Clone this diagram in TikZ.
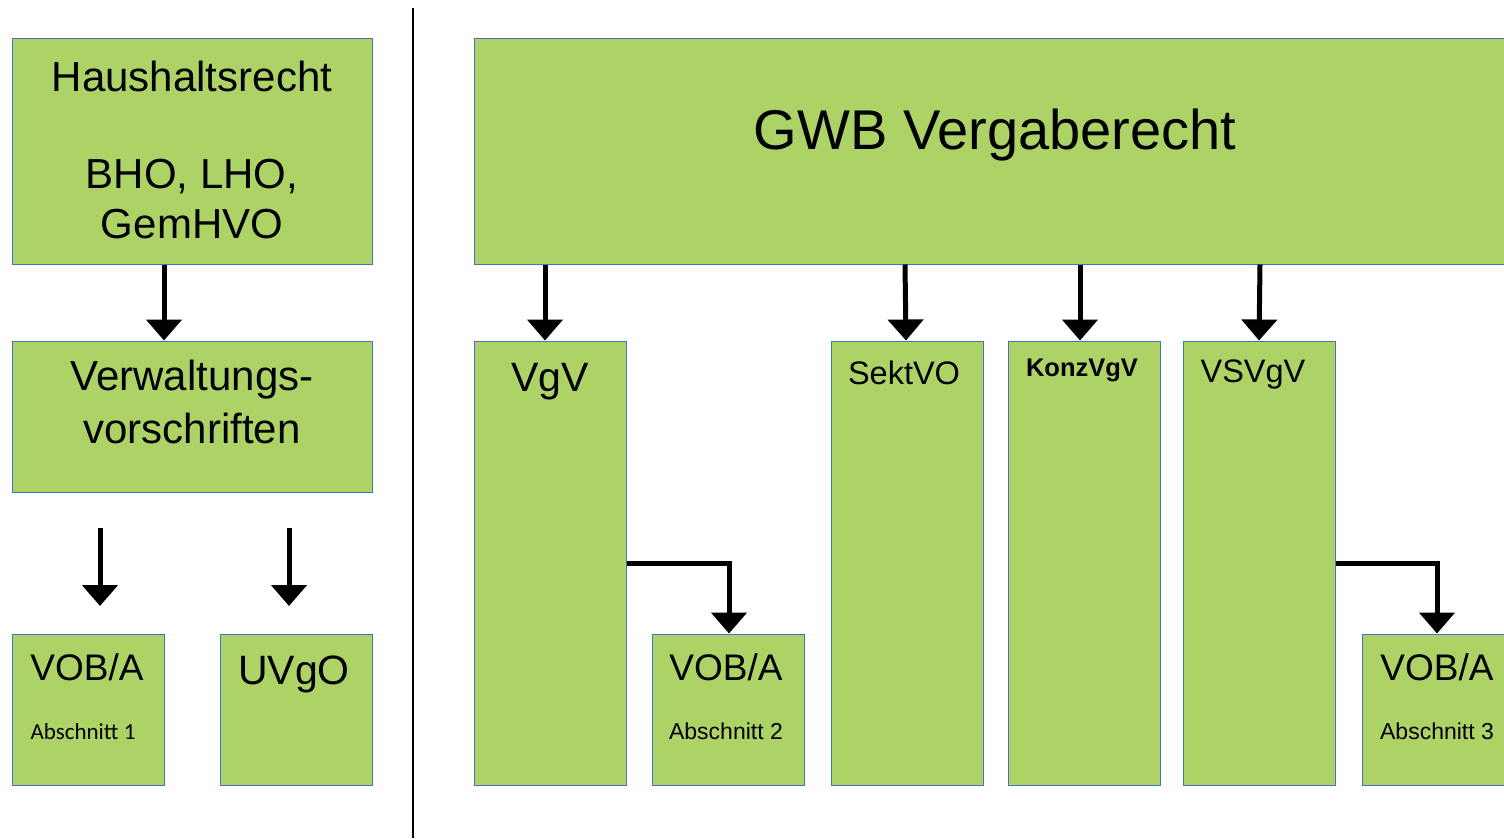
\documentclass[tikz,border=0pt]{standalone}
\usepackage{fontspec}
\setmainfont{Liberation Sans}
\newfontfamily\carl{Carlito}
\usetikzlibrary{arrows.meta}
\definecolor{boxgreen}{RGB}{173,211,103}
\definecolor{boxedge}{RGB}{68,114,196}
\tikzset{
  gbox/.style={draw=boxedge, line width=1pt, fill=boxgreen, inner sep=0pt},
  lbl/.style={inner sep=0pt, text=black, align=center},
  arr/.style={line width=5pt, -{Triangle[width=35pt,length=21pt]}},
  elbow/.style={line width=5pt, -{Triangle[width=35pt,length=21pt]}, line join=miter}
}
\newcommand{\fs}[1]{\fontsize{#1}{#1}\selectfont}
\begin{document}
\begin{tikzpicture}[x=1pt,y=-1pt]
\useasboundingbox (0,0) rectangle (1504,838);
% boxes
\node[gbox, minimum width=360pt, minimum height=226pt] (hh) at (192,151) {};
\node[gbox, minimum width=360pt, minimum height=151pt] (vw) at (192,416.5) {};
\node[gbox, minimum width=152pt, minimum height=151pt] (vob1) at (88,709.5) {};
\node[gbox, minimum width=152pt, minimum height=151pt] (uvgo) at (296,709.5) {};
\node[gbox, minimum width=1034pt, minimum height=226pt] (gwb) at (991,151) {};
\node[gbox, minimum width=152pt, minimum height=444pt] (vgv) at (550,563) {};
\node[gbox, minimum width=152pt, minimum height=151pt] (vob2) at (728,709.5) {};
\node[gbox, minimum width=152pt, minimum height=444pt] (sekt) at (907,563) {};
\node[gbox, minimum width=152pt, minimum height=444pt] (konz) at (1084,563) {};
\node[gbox, minimum width=152pt, minimum height=444pt] (vsv) at (1259,563) {};
\node[gbox, minimum width=152pt, minimum height=151pt] (vob3) at (1438,709.5) {};
% separator
\coordinate (sepT) at (413,8);
\coordinate (sepB) at (413,838);
\draw[line width=1.5pt] (sepT) -- (sepB);
% labels
\node[lbl, font=\fs{42}] (hhA) at (192,76) {Haushaltsrecht};
\node[lbl, font=\fs{42}] (hhB) at (192,177) {BHO, LHO,};
\node[lbl, font=\fs{42}] (hhC) at (192,224) {GemHVO};
\node[lbl, font=\fs{42}] (vwA) at (192,380) {Verwaltungs-};
\node[lbl, font=\fs{42}] (vwB) at (192,428) {vorschriften};
\node[lbl, font=\fs{37}] (v1A) at (87,667) {VOB/A};
\node[lbl, font=\carl\fs{23}] (v1B) at (83,732) {Abschnitt 1};
\node[lbl, font=\fs{41}] (uvA) at (294,674) {UVgO};
\node[lbl, font=\fs{56}] (gwbA) at (995,135) {GWB Vergaberecht};
\node[lbl, font=\fs{41}] (vgvA) at (550,382) {VgV};
\node[lbl, font=\fs{37}] (v2A) at (726,667) {VOB/A};
\node[lbl, font=\fs{23}] (v2B) at (726,731) {Abschnitt 2};
\node[lbl, font=\fs{32.5}] (sektA) at (904,373) {SektVO};
\node[lbl, font=\bfseries\fs{25.5}] (konzA) at (1082,370) {KonzVgV};
\node[lbl, font=\fs{32.5}] (vsvA) at (1253,375) {VSVgV};
\node[lbl, font=\fs{37}] (v3A) at (1437,667) {VOB/A};
\node[lbl, font=\fs{23}] (v3B) at (1437,731) {Abschnitt 3};
% arrows
\draw[arr] ([xshift=-28pt]hh.south) -- ([xshift=-28pt]vw.north);
\coordinate (fa1) at (100,528);
\coordinate (fb1) at (100,606);
\coordinate (fa2) at (289,528);
\coordinate (fb2) at (289,606);
\draw[arr] (fa1) -- (fb1);
\draw[arr] (fa2) -- (fb2);
\draw[arr] (gwb.south -| 545,0) -- (vgv.north -| 545,0);
\draw[arr] (gwb.south -| 905,0) -- (sekt.north -| 906,0);
\draw[arr] (gwb.south -| 1080,0) -- (konz.north -| 1080,0);
\draw[arr] (gwb.south -| 1260,0) -- (vsv.north -| 1259,0);
\draw[elbow] (vgv.east |- 0,563) -| (vob2.north -| 729,0);
\draw[elbow] (vsv.east |- 0,563) -| (vob3.north -| 1437,0);
\end{tikzpicture}
\end{document}
